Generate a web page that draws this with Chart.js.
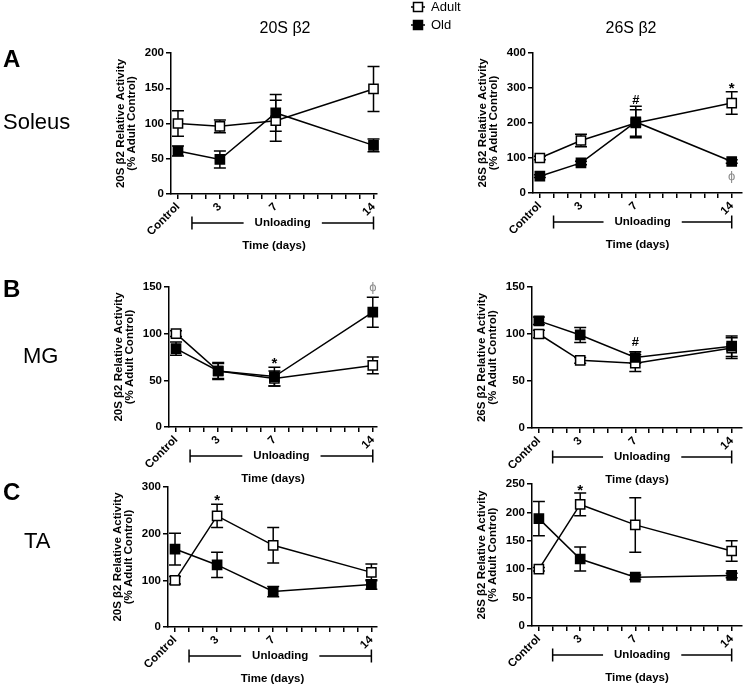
<!DOCTYPE html>
<html>
<head>
<meta charset="utf-8">
<script src="https://cdn.jsdelivr.net/npm/chart.js@4.4.1/dist/chart.umd.min.js"></script>
<style>
  html, body { margin: 0; padding: 0; background: #fff; }
  #fig { position: relative; width: 750px; height: 686px; }
  #fig canvas { position: absolute; left: 0; top: 0; }
</style>
</head>
<body>
<div id="fig"></div>
<script>
// time points (days of unloading), Control = day 0
const timepoints = [0, 3, 7, 14];
const timeLabels = ['Control', '3', '7', '14'];
const dayTicks = [0, 1, 2, 3, 4, 5, 6, 7, 8, 9, 10, 11, 12, 13, 14];

// Soleus - 20S beta2
const soleus20Adult = [100, 96, 104, 149];
const soleus20AdultSem = [18, 9, 29, 32];
const soleus20Old = [61, 49, 115, 69];
const soleus20OldSem = [7, 12, 26, 9];

// Soleus - 26S beta2
const soleus26Adult = [100, 150, 200, 257];
const soleus26AdultSem = [5, 18, 38, 32];
const soleus26Old = [48, 86, 203, 90];
const soleus26OldSem = [4, 5, 45, 5];

// MG - 20S beta2
const mg20Adult = [100, 60, 52, 66];
const mg20AdultSem = [3, 8, 8, 9];
const mg20Old = [84, 60, 54, 123];
const mg20OldSem = [7, 9, 10, 16];

// MG - 26S beta2
const mg26Adult = [100, 72, 69, 85];
const mg26AdultSem = [4, 3, 9, 11];
const mg26Old = [114, 99, 75, 87];
const mg26OldSem = [4, 8, 6, 11];

// TA - 20S beta2
const ta20Adult = [100, 238, 175, 117];
const ta20AdultSem = [8, 25, 38, 18];
const ta20Old = [167, 133, 76, 91];
const ta20OldSem = [34, 27, 11, 10];

// TA - 26S beta2
const ta26Adult = [100, 214, 178, 132];
const ta26AdultSem = [3, 20, 48, 18];
const ta26Old = [189, 118, 86, 89];
const ta26OldSem = [30, 21, 4, 4];

// significance marks: text, day, value
const soleus26Notes = [['#', 7, 265], ['*', 14, 305], ['\u03d5', 14, 48]];
const mg20Notes = [['*', 7, 71], ['\u03d5', 14, 150]];
const mg26Notes = [['#', 7, 91]];
const ta20Notes = [['*', 3, 276]];
const ta26Notes = [['*', 3, 244]];

const FONT = 'Arial, "Liberation Sans", Helvetica, sans-serif';
const YW = 40;   // y scale box width
const XH = 40;   // x scale box height

const toPoints = (vals) => vals.map((v, i) => ({ x: timepoints[i], y: v }));

// error bars (mean +/- SEM) drawn under the lines/markers
const errorBars = {
    id: 'errorBars',
    beforeDatasetsDraw(chart) {
        const { ctx, scales: { x, y } } = chart;
        ctx.save();
        ctx.strokeStyle = '#000';
        ctx.lineWidth = 1.5;
        chart.data.datasets.forEach(ds => {
            ds.data.forEach((pt, i) => {
                const px = x.getPixelForValue(pt.x);
                const top = y.getPixelForValue(pt.y + ds.sem[i]);
                const bot = y.getPixelForValue(pt.y - ds.sem[i]);
                ctx.beginPath();
                ctx.moveTo(px, top); ctx.lineTo(px, bot);
                ctx.moveTo(px - 6, top); ctx.lineTo(px + 6, top);
                ctx.moveTo(px - 6, bot); ctx.lineTo(px + 6, bot);
                ctx.stroke();
            });
        });
        ctx.restore();
    }
};

// everything around the plot: axis title, unloading bracket, labels, legend
const decorations = {
    id: 'decorations',
    afterDraw(chart, args, opts) {
        const { ctx, chartArea: area, scales: { x, y } } = chart;
        ctx.save();
        ctx.fillStyle = '#000';
        ctx.strokeStyle = '#000';

        // y title, two lines
        const cy = (area.top + area.bottom) / 2;
        ctx.font = 'bold 11.5px ' + FONT;
        ctx.textAlign = 'center';
        ctx.textBaseline = 'middle';
        [[opts.yTitle, 50], ['(% Adult Control)', 39]].forEach(([txt, off]) => {
            ctx.save();
            ctx.translate(area.left - off, cy);
            ctx.rotate(-Math.PI / 2);
            ctx.fillText(txt, 0, 0);
            ctx.restore();
        });

        // unloading bracket
        const by = area.bottom + 29;
        const x1 = x.getPixelForValue(1);
        const x14 = x.getPixelForValue(14);
        const cx = x.getPixelForValue(7.5);
        ctx.font = 'bold 11.5px ' + FONT;
        const w = ctx.measureText('Unloading').width;
        ctx.lineWidth = 1.5;
        ctx.beginPath();
        ctx.moveTo(x1, by - 6.5); ctx.lineTo(x1, by + 6.5);
        ctx.moveTo(x14, by - 6.5); ctx.lineTo(x14, by + 6.5);
        ctx.moveTo(x1, by); ctx.lineTo(cx - w / 2 - 11, by);
        ctx.moveTo(cx + w / 2 + 11, by); ctx.lineTo(x14, by);
        ctx.stroke();
        ctx.fillText('Unloading', cx, by);
        ctx.fillText('Time (days)', (area.left + area.right) / 2, area.bottom + 52);

        // significance marks
        (opts.notes || []).forEach(([txt, day, val]) => {
            const px = x.getPixelForValue(day);
            const py = y.getPixelForValue(val);
            if (txt === '*') {
                ctx.font = 'bold 15px ' + FONT;
                ctx.fillStyle = '#000';
                ctx.fillText(txt, px, py + 3);
            } else if (txt === '#') {
                ctx.font = 'bold 13px ' + FONT;
                ctx.fillStyle = '#000';
                ctx.fillText(txt, px, py);
            } else {
                ctx.font = '13px ' + FONT;
                ctx.fillStyle = '#8a8a8a';
                ctx.fillText(txt, px, py);
            }
        });
        ctx.fillStyle = '#000';

        // column title
        if (opts.colTitle) {
            ctx.font = '16px ' + FONT;
            ctx.fillText(opts.colTitle, opts.colTitleX, 29);
        }

        // row label
        if (opts.rowLetter) {
            ctx.textAlign = 'left';
            ctx.font = 'bold 24px ' + FONT;
            ctx.fillText(opts.rowLetter, 3, opts.rowLetterY);
            ctx.font = '22px ' + FONT;
            ctx.fillText(opts.rowName, opts.rowNameX, opts.rowNameY);
        }

        // legend
        if (opts.legend) {
            [['Adult', '#fff', 7], ['Old', '#000', 25]].forEach(([name, fill, ly]) => {
                ctx.lineWidth = 1.5;
                ctx.beginPath();
                ctx.moveTo(411, ly); ctx.lineTo(425, ly);
                ctx.stroke();
                ctx.fillStyle = fill;
                ctx.fillRect(413.5, ly - 4.5, 9, 9);
                ctx.strokeRect(413.5, ly - 4.5, 9, 9);
                ctx.fillStyle = '#000';
                ctx.textAlign = 'left';
                ctx.font = '13px ' + FONT;
                ctx.fillText(name, 431, ly);
            });
        }
        ctx.restore();
    }
};

const tickFont = { family: FONT, size: 11.5, weight: 'bold' };

const criarPainel = (p) => {
    const canvas = document.createElement('canvas');
    canvas.width = 750;
    canvas.height = 686;
    document.getElementById('fig').appendChild(canvas);

    const serie = (label, vals, sem, fill, order) => ({
        label: label,
        data: toPoints(vals),
        sem: sem,
        order: order,
        borderColor: '#000',
        borderWidth: 1.5,
        backgroundColor: fill,
        pointStyle: 'rect',
        pointRadius: 6.5,
        pointBorderWidth: 1.5,
        pointBackgroundColor: fill,
        pointBorderColor: '#000',
        tension: 0,
        clip: false
    });

    new Chart(canvas, {
        type: 'line',
        data: {
            datasets: [
                serie('Old', p.old, p.oldSem, '#000', 0),
                serie('Adult', p.adult, p.adultSem, '#fff', 1)
            ]
        },
        options: {
            responsive: false,
            animation: false,
            events: [],
            layout: {
                padding: { left: p.axisX - YW, top: p.top, right: 750 - p.right, bottom: 686 - p.bottom - XH }
            },
            plugins: {
                legend: { display: false },
                tooltip: { enabled: false },
                decorations: p.deco
            },
            scales: {
                x: {
                    type: 'linear',
                    min: -0.5,
                    max: p.xMax,
                    afterBuildTicks: (s) => { s.ticks = dayTicks.map(v => ({ value: v })); },
                    afterFit: (s) => { s.height = XH; },
                    grid: { drawOnChartArea: false, drawTicks: true, tickLength: 5, color: '#000', lineWidth: 1.5 },
                    border: { display: true, color: '#000', width: 1.5 },
                    ticks: {
                        autoSkip: false,
                        minRotation: 45,
                        maxRotation: 45,
                        color: '#000',
                        padding: 1,
                        font: tickFont,
                        callback: (v) => {
                            const i = timepoints.indexOf(v);
                            return i >= 0 ? timeLabels[i] : '';
                        }
                    }
                },
                y: {
                    min: 0,
                    max: p.yMax,
                    afterFit: (s) => { s.width = YW; },
                    grid: { drawOnChartArea: false, drawTicks: true, tickLength: 5, color: '#000', lineWidth: 1.5 },
                    border: { display: true, color: '#000', width: 1.5 },
                    ticks: { stepSize: p.yStep, color: '#000', padding: 2, font: tickFont }
                }
            }
        },
        plugins: [errorBars, decorations]
    });
};

const paineis = [
    {
        axisX: 171, right: 377, top: 53, bottom: 194, xMax: 14.25, yMax: 200, yStep: 50,
        adult: soleus20Adult, adultSem: soleus20AdultSem, old: soleus20Old, oldSem: soleus20OldSem,
        deco: { yTitle: '20S \u03b22 Relative Activity', colTitle: '20S \u03b22', colTitleX: 285,
                rowLetter: 'A', rowLetterY: 60, rowName: 'Soleus', rowNameX: 3, rowNameY: 123 }
    },
    {
        axisX: 533, right: 747, top: 53, bottom: 193, xMax: 14.75, yMax: 400, yStep: 100,
        adult: soleus26Adult, adultSem: soleus26AdultSem, old: soleus26Old, oldSem: soleus26OldSem,
        deco: { yTitle: '26S \u03b22 Relative Activity', colTitle: '26S \u03b22', colTitleX: 631,
                notes: soleus26Notes, legend: true }
    },
    {
        axisX: 169, right: 377, top: 287, bottom: 427, xMax: 14.3, yMax: 150, yStep: 50,
        adult: mg20Adult, adultSem: mg20AdultSem, old: mg20Old, oldSem: mg20OldSem,
        deco: { yTitle: '20S \u03b22 Relative Activity', notes: mg20Notes,
                rowLetter: 'B', rowLetterY: 290, rowName: 'MG', rowNameX: 23, rowNameY: 357 }
    },
    {
        axisX: 532, right: 747, top: 287, bottom: 428, xMax: 14.75, yMax: 150, yStep: 50,
        adult: mg26Adult, adultSem: mg26AdultSem, old: mg26Old, oldSem: mg26OldSem,
        deco: { yTitle: '26S \u03b22 Relative Activity', notes: mg26Notes }
    },
    {
        axisX: 168, right: 377, top: 487, bottom: 627, xMax: 14.4, yMax: 300, yStep: 100,
        adult: ta20Adult, adultSem: ta20AdultSem, old: ta20Old, oldSem: ta20OldSem,
        deco: { yTitle: '20S \u03b22 Relative Activity', notes: ta20Notes,
                rowLetter: 'C', rowLetterY: 493, rowName: 'TA', rowNameX: 24, rowNameY: 542 }
    },
    {
        axisX: 532, right: 747, top: 484, bottom: 626, xMax: 14.75, yMax: 250, yStep: 50,
        adult: ta26Adult, adultSem: ta26AdultSem, old: ta26Old, oldSem: ta26OldSem,
        deco: { yTitle: '26S \u03b22 Relative Activity', notes: ta26Notes }
    }
];

paineis.forEach(criarPainel);
</script>
</body>
</html>
